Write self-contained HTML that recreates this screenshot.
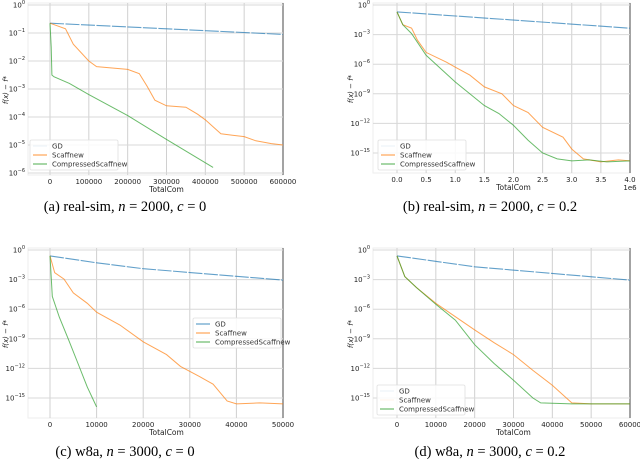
<!DOCTYPE html>
<html><head><meta charset="utf-8"><style>
body{margin:0;background:#fff;}
svg{display:block;font-family:"DejaVu Sans","Liberation Sans",sans-serif;}
.cap{font-family:"Liberation Serif",serif;font-size:14.5px;fill:#000;}
</style></head><body>
<svg id="fig" width="640" height="465" viewBox="0 0 640 465"></svg>
<script>
// ---- data (log10 of f(x)-f*) ----
const aGDx=[0,600000], aGDy=[-0.65,-1.05];
const aSNx=[0,40000,60000,100000,120000,160000,200000,230000,250000,270000,300000,350000,380000,400000,440000,470000,500000,530000,570000,600000];
const aSNy=[-0.65,-0.85,-1.4,-2.0,-2.2,-2.25,-2.3,-2.45,-2.9,-3.4,-3.6,-3.65,-3.9,-4.1,-4.6,-4.65,-4.7,-4.85,-4.95,-5.0];
const aCSx=[0,3000,5000,10000,50000,100000,200000,300000,420000];
const aCSy=[-0.65,-1.5,-2.5,-2.56,-2.8,-3.2,-3.95,-4.8,-5.8];
const bGDx=[0,4.0], bGDy=[-0.7,-2.35];
const bSNx=[0,0.1,0.25,0.35,0.5,0.85,1.0,1.25,1.5,1.8,2.0,2.25,2.5,2.85,3.0,3.2,3.5,3.8,4.0];
const bSNy=[-0.7,-2.0,-2.35,-3.56,-4.8,-5.8,-6.3,-7.1,-8.3,-9.0,-10.2,-10.9,-12.4,-13.4,-14.6,-15.6,-15.9,-15.7,-15.8];
const bCSx=[0,0.1,0.25,0.5,1.0,1.5,1.75,2.0,2.25,2.5,2.75,3.0,3.3,3.6,4.0];
const bCSy=[-0.7,-2.0,-2.9,-5.1,-7.8,-10.2,-11.0,-12.2,-13.7,-15.0,-15.6,-15.8,-15.7,-15.9,-15.8];
const cGDx=[0,10000,20000,50000], cGDy=[-0.6,-1.3,-1.9,-3.05];
const cSNx=[0,1000,3000,5000,8000,10000,15000,20000,25000,28000,32000,35000,38000,40000,45000,50000];
const cSNy=[-0.6,-2.3,-2.95,-4.35,-5.4,-6.3,-7.6,-9.3,-10.6,-11.8,-12.8,-13.6,-15.3,-15.6,-15.5,-15.6];
const cCSx=[0,500,2000,4000,6000,8000,10000];
const cCSy=[-0.6,-4.7,-6.8,-9.1,-11.5,-13.9,-15.9];
const dGDx=[0,20000,60000], dGDy=[-0.6,-1.7,-3.05];
const dSNx=[0,2000,5000,10000,20000,25000,30000,35000,40000,45000,50000,60000];
const dSNy=[-0.6,-2.7,-3.8,-5.4,-8.1,-9.4,-10.6,-12.2,-13.7,-15.5,-15.6,-15.6];
const dCSx=[0,2000,5000,10000,15000,20000,25000,30000,35000,37000,45000,60000];
const dCSy=[-0.6,-2.7,-3.8,-5.5,-7.1,-9.6,-11.5,-13.2,-15.0,-15.5,-15.6,-15.6];
const aXT=[0,100000,200000,300000,400000,500000,600000], aYT=[0,-1,-2,-3,-4,-5,-6];
const bXT=[0,0.5,1.0,1.5,2.0,2.5,3.0,3.5,4.0], bYT=[0,-3,-6,-9,-12,-15];
const cXT=[0,10000,20000,30000,40000,50000], cYT=[0,-3,-6,-9,-12,-15];
const dXT=[0,10000,20000,30000,40000,50000,60000], dYT=[0,-3,-6,-9,-12,-15];

const NS="http://www.w3.org/2000/svg";
const svg=document.getElementById('fig');
function mk(tag,attrs,parent){const e=document.createElementNS(NS,tag);for(const k in attrs)e.setAttribute(k,attrs[k]);(parent||svg).appendChild(e);return e;}
const COL={GD:'#1f77b4',SN:'#ff7f0e',CS:'#2ca02c'};

function panel(id,P){
  const g=mk('g',{});
  
  
  const X=v=>P.x0+(v-P.xmin)/(P.xmax-P.xmin)*(P.x1-P.x0);
  const Y=v=>P.yTop+(P.ymax-v)/(P.ymax-P.ymin)*(P.yBot-P.yTop);
  const L=P.left,B=P.bottom;
  const frame=mk('rect',{x:L,y:P.yTop-2,width:P.x1-L,height:B-P.yTop+2,fill:'none',stroke:'#eee','stroke-width':1},g);
  
  
  P.xt.forEach((t,i)=>{
    const gl=mk('line',{x1:X(t),x2:X(t),y1:P.yTop-2,y2:B,stroke:'#d0d0d0','stroke-width':1},g);
    
    
    const tx=mk('text',{x:X(t),y:B+9,'font-size':7,'text-anchor':'middle',fill:'#222'},g);
    tx.textContent=P.xfmt(t);
    
    
  });
  mk('line',{x1:P.x1,x2:P.x1,y1:P.yTop-2,y2:B,stroke:'#666','stroke-width':1.2},g);
  P.yt.forEach(t=>{
    const gl=mk('line',{x1:L,x2:P.x1,y1:Y(t),y2:Y(t),stroke:'#d8d8d8','stroke-width':1},g);
    
    
    const tx=mk('text',{x:L-3,y:Y(t)+2.5,'font-size':7,'text-anchor':'end',fill:'#222'},g);
    
    
    tx.appendChild(document.createTextNode('10'));
    const s=mk('tspan',{dy:-3.5,'font-size':5},tx);s.textContent=(t<0?'\u2212'+(-t):''+t);
    const pad=mk('tspan',{dy:3.5,'font-size':5},tx);pad.textContent='';
  });
  const xl=mk('text',{x:(P.x0+P.x1)/2,y:B+17,'font-size':7.5,'text-anchor':'middle',fill:'#222'},g);
  xl.textContent='TotalCom';
  
  
  const yl=mk('text',{x:0,y:0,'font-size':7,'text-anchor':'middle',fill:'#222',transform:`translate(${L-20},${(P.yTop+B)/2}) rotate(-90)`,'font-style':'italic'},g);
  yl.textContent='f(x) \u2212 f*';
  
  
  if(P.offset){const o=mk('text',{x:P.x1,y:B+17,'font-size':7,'text-anchor':'middle',fill:'#222'},g);o.textContent=P.offset;
    
    }
  [['GD',P.gd],['SN',P.sn],['CS',P.cs]].forEach(([k,s])=>{
    const d=s[0].map((x,i)=>(i?'L':'M')+X(x).toFixed(1)+','+Y(s[1][i]).toFixed(1)).join('');
    const p=mk('path',{d:d,fill:'none',stroke:COL[k],'stroke-width':k==='GD'?1.1:1,'stroke-opacity':0.7,'stroke-dasharray':k==='GD'?'14,1.5':'none'},g);
    
    
  });
  const lg=mk('g',{},g);
  
  
  mk('rect',{x:P.lg[0],y:P.lg[1],width:88,height:30,fill:'#fff','fill-opacity':0.85,stroke:'#e0e0e0','stroke-width':0.8,rx:1.5},lg);
  ['GD','Scaffnew','CompressedScaffnew'].forEach((n,i)=>{
    const yy=P.lg[1]+6+i*9;
    const k=['GD','SN','CS'][i];
    const op=P.lgFaint&&P.lgFaint[i]?0.08:0.7;
    mk('line',{x1:P.lg[0]+3,x2:P.lg[0]+17,y1:yy,y2:yy,stroke:COL[k],'stroke-opacity':op,'stroke-width':1.2},lg);
    const t=mk('text',{x:P.lg[0]+22,y:yy+2.5,'font-size':7,fill:'#333'},lg);t.textContent=n;
    
    
  });
}
const kfmt=v=>String(v), ffmt=v=>v.toFixed(1);
panel('a',{xmin:0,xmax:600000,x0:50,x1:283,left:28,bottom:175,ymin:-6,ymax:0,yTop:5,yBot:173,xt:aXT,yt:aYT,xfmt:kfmt,
  gd:[aGDx,aGDy],sn:[aSNx,aSNy],cs:[aCSx,aCSy],lg:[30,140],lgFaint:[1,0,0]});
panel('b',{xmin:0,xmax:4,x0:397,x1:630,left:373,bottom:173,ymin:-15,ymax:0,yTop:5,yBot:153,xt:bXT,yt:bYT,xfmt:ffmt,offset:'1e6',
  gd:[bGDx,bGDy],sn:[bSNx,bSNy],cs:[bCSx,bCSy],lg:[378,140],lgFaint:[1,0,0]});
panel('c',{xmin:0,xmax:50000,x0:50,x1:283,left:28,bottom:418,ymin:-15,ymax:0,yTop:250,yBot:398,xt:cXT,yt:cYT,xfmt:kfmt,
  gd:[cGDx,cGDy],sn:[cSNx,cSNy],cs:[cCSx,cCSy],lg:[513,318].map((v,i)=>i?v:v-320),lgFaint:[0,0,0]});
panel('d',{xmin:0,xmax:60000,x0:397,x1:630,left:373,bottom:418,ymin:-15,ymax:0,yTop:250,yBot:398,xt:dXT,yt:dYT,xfmt:kfmt,
  gd:[dGDx,dGDy],sn:[dSNx,dSNy],cs:[dCSx,dCSy],lg:[377,385],lgFaint:[1,1,0]});
// fix legend c position (it sits in right part of panel c)
const caps=[['(a) real-sim, ',125,211,'0'],['(b) real-sim, ',490,211,'0.2'],['(c) w8a, ',125,456,'0'],['(d) w8a, ',490,456,'0.2']];
const nvals=['2000','2000','3000','3000'];
caps.forEach((c,i)=>{
  const t=mk('text',{x:c[1],y:c[2],'text-anchor':'middle',class:'cap'});
  
  
  t.appendChild(document.createTextNode(c[0]));
  const n=mk('tspan',{'font-style':'italic'},t);n.textContent='n';
  t.appendChild(document.createTextNode(' = '+nvals[i]+', '));
  const cc=mk('tspan',{'font-style':'italic'},t);cc.textContent='c';
  t.appendChild(document.createTextNode(' = '+c[3]));
});
</script>
</body></html>
